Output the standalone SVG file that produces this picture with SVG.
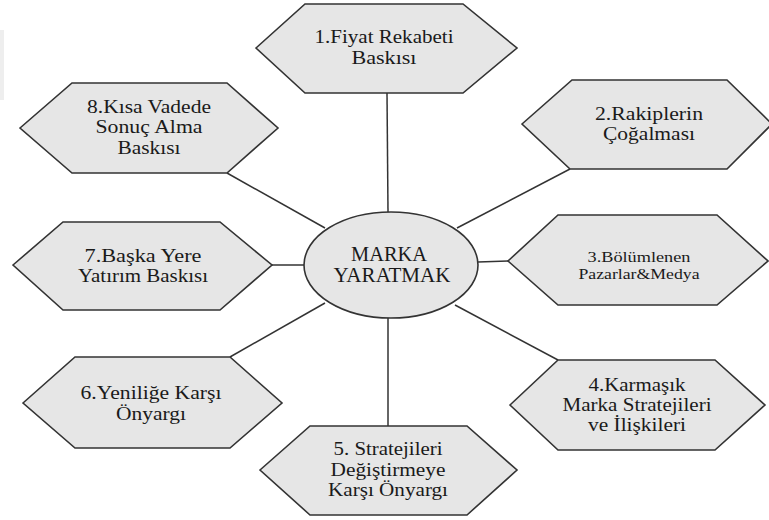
<svg xmlns="http://www.w3.org/2000/svg" width="769" height="520" viewBox="0 0 769 520">
<style>
.hex{fill:#e6e6e6;stroke:#333333;stroke-width:1.6;stroke-linejoin:miter}
.ell{fill:#e6e6e6;stroke:#333333;stroke-width:1.6}
.con{stroke:#333333;stroke-width:1.5;fill:none}
.t{font-family:"Liberation Serif","Times New Roman",serif;fill:#1a1a1a;text-anchor:middle;font-size:18px}
.big{font-size:20px}
.sm{font-size:15.5px}
</style>
<rect x="0" y="30" width="4" height="70" fill="#eeeeee"/>
<g id="connectors">
<line class="con" x1="387" y1="93" x2="388" y2="212"/>
<line class="con" x1="227" y1="173" x2="325" y2="228"/>
<line class="con" x1="570" y1="169" x2="457" y2="228"/>
<line class="con" x1="272" y1="265" x2="304" y2="265"/>
<line class="con" x1="478" y1="262" x2="508" y2="261"/>
<line class="con" x1="230" y1="357" x2="325" y2="303"/>
<line class="con" x1="388" y1="318" x2="388" y2="426"/>
<line class="con" x1="558" y1="360" x2="455" y2="305"/>
</g>
<g id="center">
<ellipse class="ell" cx="391" cy="265" rx="87" ry="53"/>
<text class="t big" x="389" y="261" textLength="76" lengthAdjust="spacingAndGlyphs">MARKA</text>
<text class="t big" x="392" y="282" textLength="117" lengthAdjust="spacingAndGlyphs">YARATMAK</text>
</g>
<g id="n1">
<polygon class="hex" points="256,48 305,4 463,4 517,48 463,93 305,93"/>
<text class="t" x="384" y="43" textLength="139" lengthAdjust="spacingAndGlyphs">1.Fiyat Rekabeti</text>
<text class="t" x="384" y="64" textLength="65" lengthAdjust="spacingAndGlyphs">Baskısı</text>
</g>
<g id="n2">
<polygon class="hex" points="522,124 572,80 727,80 772,124 727,169 570,169"/>
<text class="t" x="649" y="120" textLength="108" lengthAdjust="spacingAndGlyphs">2.Rakiplerin</text>
<text class="t" x="649" y="140" textLength="92" lengthAdjust="spacingAndGlyphs">Çoğalması</text>
</g>
<g id="n3">
<polygon class="hex" points="508,261 558,215 717,215 768,261 717,305 558,305"/>
<text class="t sm" x="639" y="262" textLength="103" lengthAdjust="spacingAndGlyphs">3.Bölümlenen</text>
<text class="t sm" x="639" y="279" textLength="121" lengthAdjust="spacingAndGlyphs">Pazarlar&amp;Medya</text>
</g>
<g id="n4">
<polygon class="hex" points="510,405 558,360 715,360 765,405 715,450 558,450"/>
<text class="t" x="637" y="391" textLength="97" lengthAdjust="spacingAndGlyphs">4.Karmaşık</text>
<text class="t" x="637" y="411" textLength="149" lengthAdjust="spacingAndGlyphs">Marka Stratejileri</text>
<text class="t" x="637" y="431" textLength="98" lengthAdjust="spacingAndGlyphs">ve İlişkileri</text>
</g>
<g id="n5">
<polygon class="hex" points="260,470 310,426 467,426 517,470 467,515 310,515"/>
<text class="t" x="388" y="455" textLength="109" lengthAdjust="spacingAndGlyphs">5. Stratejileri</text>
<text class="t" x="388" y="476" textLength="115" lengthAdjust="spacingAndGlyphs">Değiştirmeye</text>
<text class="t" x="388" y="496" textLength="120" lengthAdjust="spacingAndGlyphs">Karşı Önyargı</text>
</g>
<g id="n6">
<polygon class="hex" points="23,403 75,357 230,357 282,403 230,448 75,448"/>
<text class="t" x="151" y="399" textLength="141" lengthAdjust="spacingAndGlyphs">6.Yeniliğe Karşı</text>
<text class="t" x="151" y="420" textLength="70" lengthAdjust="spacingAndGlyphs">Önyargı</text>
</g>
<g id="n7">
<polygon class="hex" points="13,265 63,222 220,222 272,265 220,310 63,310"/>
<text class="t" x="143" y="262" textLength="117" lengthAdjust="spacingAndGlyphs">7.Başka Yere</text>
<text class="t" x="143" y="282" textLength="130" lengthAdjust="spacingAndGlyphs">Yatırım Baskısı</text>
</g>
<g id="n8">
<polygon class="hex" points="20,128 72,83 227,83 278,128 227,173 72,173"/>
<text class="t" x="149" y="113" textLength="124" lengthAdjust="spacingAndGlyphs">8.Kısa Vadede</text>
<text class="t" x="149" y="133" textLength="107" lengthAdjust="spacingAndGlyphs">Sonuç Alma</text>
<text class="t" x="149" y="154" textLength="63" lengthAdjust="spacingAndGlyphs">Baskısı</text>
</g>
</svg>
